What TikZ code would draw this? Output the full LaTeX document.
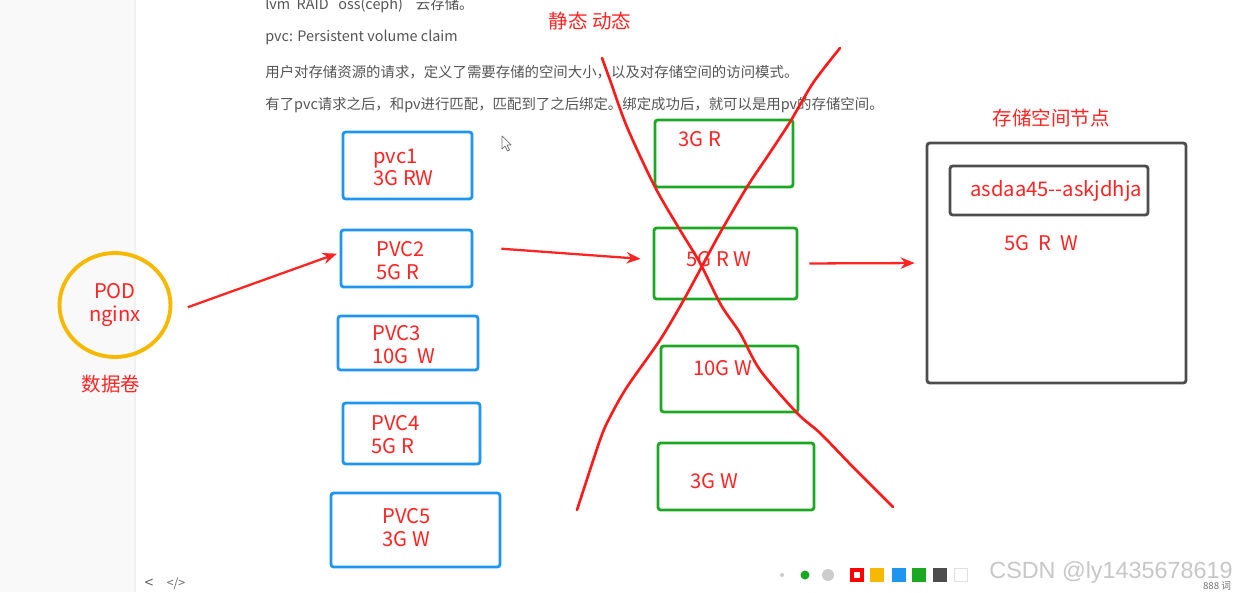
\documentclass[tikz,border=0pt]{standalone}
\usepackage{fontspec}
\setmainfont{Noto Sans CJK SC}
\newfontfamily\wmfont{Liberation Sans}
\usetikzlibrary{shapes.geometric,arrows.meta}

\definecolor{labelred}{HTML}{FF2424}
\definecolor{crossred}{HTML}{FF1A1A}
\definecolor{pvcblue}{HTML}{1E96F0}
\definecolor{pvgreen}{HTML}{1BA822}
\definecolor{nodegray}{HTML}{4D4D4D}
\definecolor{podorange}{HTML}{F7B800}
\definecolor{notegray}{HTML}{555555}
\definecolor{panegray}{HTML}{F9F9F9}
\definecolor{panedivider}{HTML}{F1F1F1}

\tikzset{
  pvcbox/.style={draw=pvcblue, line width=1.6pt, rounded corners=1.5pt, inner sep=0pt},
  pvbox/.style={draw=pvgreen, line width=1.6pt, rounded corners=1.5pt, inner sep=0pt},
  nodebox/.style={draw=nodegray, line width=1.6pt, rounded corners=1.5pt, inner sep=0pt},
  lbl/.style={text=labelred, font=\fontsize{11.5}{13}\selectfont, inner sep=0pt, anchor=west, align=left},
  title/.style={text=labelred, font=\fontsize{11.1}{13}\selectfont, inner sep=0pt},
  note/.style={text=notegray, font=\fontsize{8.2}{10}\selectfont, inner sep=0pt, anchor=west},
  redarrow/.style={draw=labelred, line width=1.3pt, -{Stealth[length=8pt, width=6.5pt]}},
  crossline/.style={draw=crossred, line width=1.5pt, line cap=round, line join=round},
  ui/.style={text=black!60, font=\fontsize{7}{8}\selectfont, inner sep=0pt}
}

\begin{document}
\begin{tikzpicture}[x=0.02cm, y=-0.02cm]

    % Page and side pane
    \useasboundingbox (0,0) rectangle (1236,592);
    \fill[white] (0,0) rectangle (1236,592);
    \fill[panegray] (0,0) rectangle (134,592);
    \fill[panedivider] (134,0) rectangle (136,592);

    % Notes at the top of the page
    \node[note] (n1) at (265,5) {lvm\ \ RAID\ \ \ oss(ceph)\ \ \ \ 云存储。};
    \node[note] (n2) at (265,37) {pvc: Persistent volume claim};
    \node[note] (n3) at (265,72) {用户对存储资源的请求，定义了需要存储的空间大小，以及对存储空间的访问模式。};
    \node[note] (n4) at (265,105) {有了pvc请求之后，和pv进行匹配，匹配到了之后绑定。绑定成功后，就可以是用pv的存储空间。};

    % Mouse pointer
    \draw[black!55, fill=white, line width=0.4pt, line join=round]
        (502,136) -- (502,149) -- (505,146) -- (507.5,151) -- (509.5,150) -- (507,145) -- (511,145) -- cycle;

    % Headings
    \node[title] (static) at (590,21) {静态 动态};
    \node[title] (storetitle) at (1051,118) {存储空间节点};

    % The pod with its volume
    \node[ellipse, draw=podorange, line width=2.2pt, minimum width=2.22cm, minimum height=2.08cm,
          text=labelred, font=\fontsize{11.5}{13}\selectfont, align=center, inner sep=0pt] (pod) at (115,305) {POD\\nginx};
    \node[title] (volume) at (111,384) {数据卷};

    % Persistent volume claims (blue)
    \node[pvcbox, minimum width=2.58cm, minimum height=1.34cm] (pvc1) at (407.5,165.5) {};
    \node[pvcbox, minimum width=2.62cm, minimum height=1.14cm] (pvc2) at (406.5,258.5) {};
    \node[pvcbox, minimum width=2.80cm, minimum height=1.08cm] (pvc3) at (408,343) {};
    \node[pvcbox, minimum width=2.74cm, minimum height=1.22cm] (pvc4) at (411.5,433.5) {};
    \node[pvcbox, minimum width=3.38cm, minimum height=1.48cm] (pvc5) at (415.5,530) {};

    \node[lbl] (pvc1lbl) at (373,167.5) {pvc1\\3G RW};
    \node[lbl] (pvc2lbl) at (376,261) {PVC2\\5G R};
    \node[lbl] (pvc3lbl) at (372,345) {PVC3\\10G\ \ W};
    \node[lbl] (pvc4lbl) at (371,435) {PVC4\\5G R};
    \node[lbl] (pvc5lbl) at (382,527.5) {PVC5\\3G W};

    % Persistent volumes (green)
    \node[pvbox, minimum width=2.76cm, minimum height=1.34cm] (pv1) at (724,153.5) {};
    \node[pvbox, minimum width=2.86cm, minimum height=1.42cm] (pv2) at (725.5,263.5) {};
    \node[pvbox, minimum width=2.74cm, minimum height=1.32cm] (pv3) at (729.5,379) {};
    \node[pvbox, minimum width=3.12cm, minimum height=1.34cm] (pv4) at (736,476.5) {};

    \node[lbl] (pv1lbl) at (678,139.5) {3G R};
    \node[lbl] (pv2lbl) at (686,259) {5G R W};
    \node[lbl] (pv3lbl) at (693,368.5) {10G W};
    \node[lbl] (pv4lbl) at (690,481.5) {3G W};

    % Storage node
    \node[nodebox, minimum width=5.18cm, minimum height=4.80cm] (store) at (1056.5,263) {};
    \node[nodebox, minimum width=3.96cm, minimum height=0.98cm] (disk) at (1049,190.5) {};
    \node[lbl] (disklbl) at (970,191) {asdaa45{-}{-}askjdhja};
    \node[lbl] (storelbl) at (1004,243.5) {5G\ \ R\ \ W};

    % Binding arrows
    \draw[redarrow, shorten <=0.34cm, shorten >=0.06cm] (pod.-8) -- (pvc2.175);
    \draw[redarrow, shorten <=0.56cm, shorten >=0.24cm] (pvc2.10) -- (pv2.177);
    \draw[redarrow, shorten <=0.22cm, shorten >=0.22cm] (pv2.east) -- (store.west);

    % Crossed out volumes
    \draw[crossline] plot[smooth] coordinates {(602,58) (610,80) (627,127) (655,187) (680,230) (700,263)
        (721,305) (740,333) (760,370) (797,413) (820,433) (853,467) (893,507)};
    \draw[crossline] plot[smooth] coordinates {(840,48) (813,83) (790,122) (767,157) (747,187) (720,233)
        (700,270) (682,303) (660,340) (627,387) (610,417) (600,440) (577,510)};

    % Editor bar at the bottom
    \node[ui, font=\fontsize{9}{10}\selectfont] (back) at (149,584) {<};
    \node[ui] (code) at (176,584) {</>};
    \fill[black!20] (782,575) circle (2);
    \fill[pvgreen] (805,575) circle (4.5);
    \fill[black!20] (828,575) circle (6);
    \fill[red] (850,568) rectangle (864,582);
    \fill[white] (854,572) rectangle (860,578);
    \foreach \x/\c in {877/podorange, 899/pvcblue, 919/pvgreen, 940/nodegray}
        \fill[\c] (\x-7,568) rectangle (\x+7,582);
    \draw[black!12, fill=white] (954.5,568.5) rectangle (967.5,581.5);

    % Watermark
    \node[text=black!22, font=\wmfont\fontsize{13.3}{15}\selectfont, inner sep=0pt] (wm) at (1111,572) {CSDN @ly1435678619};
    \node[text=black!55, font=\fontsize{5.5}{6}\selectfont, inner sep=0pt] (words) at (1217,586) {888 词};

\end{tikzpicture}
\end{document}
